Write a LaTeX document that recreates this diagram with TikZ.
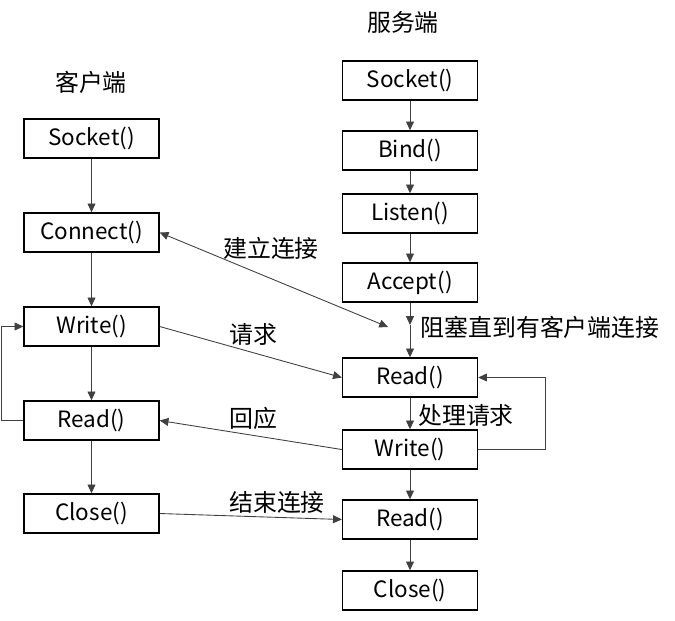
\documentclass[tikz,border=0pt]{standalone}
\usepackage{fontspec}
\setmainfont{Noto Sans CJK SC}
\usetikzlibrary{positioning, arrows.meta}

\tikzset{
    callbox/.style={draw=black, thick, minimum width=2.7cm, minimum height=0.78cm,
        inner sep=0pt, font=\fontsize{12.8}{14}\selectfont},
    link/.style={draw=black!75, line width=0.5pt},
    tip/.style={-{Triangle[length=5pt,width=4.5pt]}},
    lbl/.style={font=\fontsize{13.6}{15}\selectfont}
}

\begin{document}
\begin{tikzpicture}[x=0.02cm, y=-0.02cm]
        \useasboundingbox (0,0) rectangle (675,620);

        % client side
        \node[lbl] (clienttitle) at (91,82) {客户端};
        \node[callbox] (cSocket) at (91.5,138.5) {Socket()};
        \node[callbox] (cConnect) at (91.5,232.5) {Connect()};
        \node[callbox] (cWrite) at (91.5,326.5) {Write()};
        \node[callbox] (cRead) at (91.5,420.5) {Read()};
        \node[callbox] (cClose) at (91.5,513.5) {Close()};

        % server side
        \node[lbl] (servertitle) at (403,22) {服务端};
        \node[callbox] (sSocket) at (410,80.5) {Socket()};
        \node[callbox] (sBind) at (410,150.5) {Bind()};
        \node[callbox] (sListen) at (410,213.5) {Listen()};
        \node[callbox] (sAccept) at (410,282.5) {Accept()};
        \node[callbox] (sRead) at (410,377.5) {Read()};
        \node[callbox] (sWrite) at (410,449.5) {Write()};
        \node[callbox] (sReadEnd) at (410,519.5) {Read()};
        \node[callbox] (sClose) at (410,590.5) {Close()};

        \coordinate (block) at (410,325);
        \coordinate (meet) at (388,327);

        \foreach \a/\b in {cSocket/cConnect, cConnect/cWrite, cWrite/cRead, cRead/cClose,
                sSocket/sBind, sBind/sListen, sListen/sAccept, sRead/sWrite,
                sWrite/sReadEnd, sReadEnd/sClose}{
            \draw[link, tip] (\a) -- (\b);
        }
        \draw[link, tip] (sAccept) -- (block);
        \draw[link, tip] (block) -- (sRead);

        % loops
        \draw[link, tip] (cRead.west) -- ++(-22,0) |- (cWrite.west);
        \draw[link, tip] (sWrite.east) -- ++(67,0) |- (sRead.east);

        % messages
        \draw[link, {Triangle[length=5pt,width=4.5pt]}-{Triangle[length=5pt,width=4.5pt]}]
            (cConnect.east) -- (meet);
        \draw[link, tip] (cWrite.east) -- (sRead.west);
        \draw[link, tip] (sWrite.west) -- (cRead.east);
        \draw[link, tip] (cClose.east) -- (sReadEnd.west);

        \node[lbl] (lconnect) at (271,248) {建立连接};
        \node[lbl] (lrequest) at (253,334) {请求};
        \node[lbl] (lreply) at (253,418) {回应};
        \node[lbl] (lclose) at (277,502) {结束连接};
        \node[lbl] (lblock) at (540,327) {阻塞直到有客户端连接};
        \node[lbl] (lhandle) at (466,415) {处理请求};

    \end{tikzpicture}
\end{document}
